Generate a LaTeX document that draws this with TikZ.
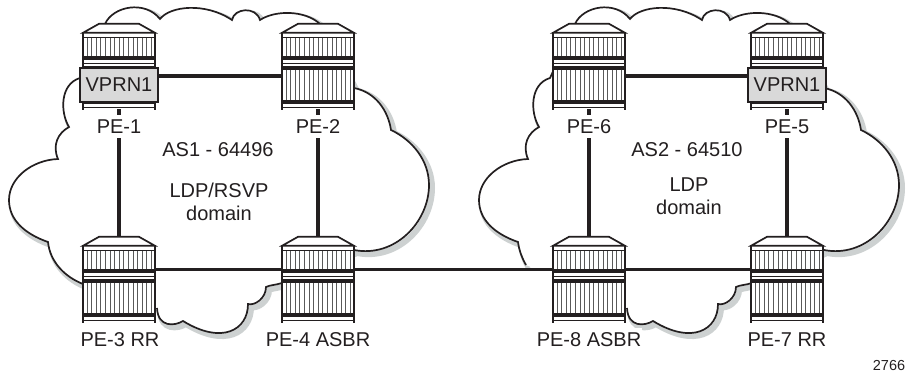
\documentclass[tikz,border=0pt]{standalone}
\usepackage{fontspec}
\setmainfont{Liberation Sans}
\definecolor{ink}{HTML}{231F20}
\definecolor{vprngray}{HTML}{D9D9D9}
\definecolor{shadowgray}{HTML}{CDD1D1}
\definecolor{hatchgray}{HTML}{5A5A5A}

% outline of one AS cloud, without its first segment
\newcommand{\cloudrest}{(48,242)
	.. controls (25,234) and (9,220) .. (9,200)
	.. controls (9,178) and (32,160) .. (58,159)
	.. controls (52,145) and (58,133) .. (69,127)
	.. controls (60,112) and (60,84) .. (80,78)
	-- (105,24)
	.. controls (113,6) and (145,0) .. (160,19)
	.. controls (170,6) and (205,2) .. (232,20)
	.. controls (234,8) and (256,6) .. (260,20)
	.. controls (275,10) and (305,10) .. (320,24)
	-- (354,88)
	.. controls (375,92) and (388,110) .. (391,130)
	.. controls (412,140) and (429,160) .. (429,185)
	.. controls (429,222) and (395,258) .. (354,250)
	-- (282,283)
	.. controls (276,285) and (270,285) .. (266,287)
	.. controls (266,298) and (255,306) .. (248,304)
	.. controls (248,330) and (222,345) .. (183,321)
	.. controls (175,326) and (158,328) .. (157,308)}

\begin{document}
\begin{tikzpicture}[x=1pt, y=-1pt, line join=miter]
	\tikzstyle{routerbox} = [rectangle, minimum width=72pt, minimum height=85pt, inner sep=0pt]
	\tikzstyle{vprnbox}   = [rectangle, minimum width=78pt, minimum height=34pt, inner sep=0pt, draw=ink, line width=1.8pt, fill=vprngray, text=ink, font=\fontsize{20}{24}\selectfont]
	\tikzstyle{link}      = [draw=ink, line width=3.2pt]
	\tikzstyle{pelabel}   = [fill=white, inner xsep=1pt, inner ysep=4.3pt, text height=14.4pt, text depth=0pt, text=ink, font=\fontsize{20}{24}\selectfont]
	\tikzstyle{astext}    = [align=center, inner sep=0pt, text=ink, font=\fontsize{20}{23}\selectfont]
	\tikzset{pics/router/.style={code={
		\fill[white] (-36,9) rectangle (36,85);
		\foreach \hx in {-32,-27.4,...,33} {
			\draw[hatchgray, line width=1pt] (\hx,14) -- (\hx,33);
			\draw[hatchgray, line width=1pt] (\hx,46) -- (\hx,76);
		}
		\draw[ink, line width=1.7pt, fill=white] (-36,9) -- (-20,0) -- (20,0) -- (36,9) -- cycle;
		\draw[ink, line width=1.7pt] (-36,9) -- (-36,86) (36,9) -- (36,86);
		\draw[ink, line width=0.8pt] (-36,14) -- (36,14);
		\draw[ink, line width=3.5pt] (-36,34) -- (36,34) (-36,44) -- (36,44) (-36,78) -- (36,78);
		\draw[ink, line width=1.4pt] (-36,39.5) -- (36,39.5) (-36,83.5) -- (36,83.5);
	}}}
	\useasboundingbox (0,0) rectangle (906,374);

	\foreach \shiftx/\startseg in {0/{(83,284) .. controls (65,277) and (50,262) ..}, 470/{(56,265) .. controls (52,258) and (49,250) ..}} {
		\begin{scope}[xshift=\shiftx]
			\draw[shadowgray, line width=6pt, shift={(3,3)}] \startseg \cloudrest;
			\fill[white] \startseg \cloudrest;
			\draw[ink, line width=1.7pt] \startseg \cloudrest;
		\end{scope}
	}

	\foreach \rname/\x/\y in {PE1/119/66.5, PE2/318/66.5, PE3/119/279.5, PE4/318/279.5, PE5/787/66.5, PE6/589/66.5, PE7/787/279.5, PE8/589/279.5}
		\node[routerbox] (\rname) at (\x, \y) {};

	\foreach \from/\to in {PE1/PE3, PE2/PE4, PE6/PE8, PE5/PE7}
		\draw[link] (\from) -- (\to);

	\foreach \from/\to in {PE1/PE2, PE6/PE5}
		\draw[link] ([yshift=-9.5pt]\from.east) -- ([yshift=-9.5pt]\to.west);

	\foreach \from/\to in {PE3/PE4, PE4/PE8, PE8/PE7}
		\draw[link] ([yshift=10pt]\from.east) -- ([yshift=10pt]\to.west);

	\foreach \rname in {PE1, PE2, PE3, PE4, PE5, PE6, PE7, PE8}
		\pic at (\rname.north) {router};

	\node[vprnbox] (VPRN1) at (119,85) {VPRN1};
	\node[vprnbox] (VPRN5) at (787,85) {VPRN1};

	\foreach \lname/\x/\y/\lab in {LPE1/119/126.5/PE-1, LPE2/318/126.5/PE-2, LPE6/589/126.5/PE-6, LPE5/787/126.5/PE-5, LPE3/120/339.5/PE-3 RR, LPE4/318/339.5/PE-4 ASBR, LPE8/589/339.5/PE-8 ASBR, LPE7/787/339.5/PE-7 RR}
		\node[pelabel] (\lname) at (\x, \y) {\lab};

	\node[astext] (as1) at (218,149.5) {AS1 - 64496};
	\node[astext] (dom1) at (219,202) {LDP/RSVP\\domain};
	\node[astext] (as2) at (687,149.5) {AS2 - 64510};
	\node[astext] (dom2) at (689,196.5) {LDP\\domain};
	\node[inner sep=0pt, text=ink, font=\fontsize{14.5}{16}\selectfont] (fignum) at (889,366) {2766};
\end{tikzpicture}
\end{document}
